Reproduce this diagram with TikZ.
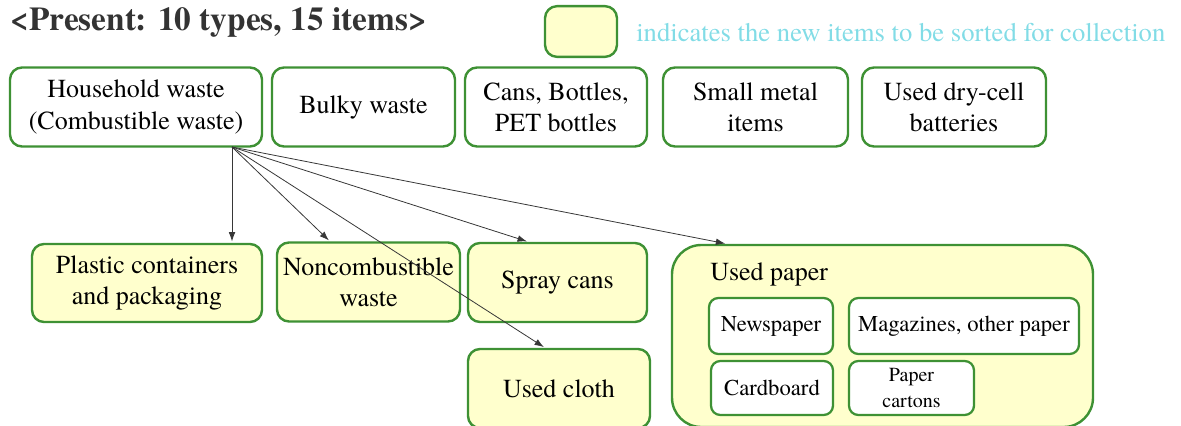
\documentclass[tikz,border=0pt]{standalone}
\usepackage{fontspec}
\setmainfont{texgyretermes}[Extension=.otf, UprightFont=*-regular, BoldFont=*-bold]
\usetikzlibrary{arrows.meta}

\definecolor{boxgreen}{RGB}{62,145,52}
\definecolor{newfill}{RGB}{255,255,205}
\definecolor{notecyan}{RGB}{130,220,230}
\definecolor{arrowgray}{RGB}{55,55,55}

\begin{document}
\begin{tikzpicture}[x=0.75pt, y=-0.75pt,
    oldtype/.style={rectangle, rounded corners=9pt, draw=boxgreen, line width=1.8pt, fill=white,
      align=center, font=\fontsize{19.5}{23.5}\selectfont, inner sep=2pt},
    newtype/.style={oldtype, fill=newfill},
    papertype/.style={oldtype, line width=1.7pt, rounded corners=7pt, font=\fontsize{17}{19}\selectfont},
    sortarrow/.style={draw=arrowgray, line width=0.6pt, -{Latex[length=7pt,width=5pt]}, shorten >=1pt}]
    \useasboundingbox (0,0) rectangle (1181,425);

    \node[anchor=base west, font=\fontsize{25}{27}\selectfont\bfseries, text=black!80, inner sep=0pt] (title) at (10,30) {<Present: 10 types, 15 items>};
    \node[newtype, minimum width=54pt, minimum height=38pt] (key) at (581,31.5) {};
    \node[anchor=base west, font=\fontsize{20}{22}\selectfont, text=notecyan, inner sep=0pt] (keytext) at (636,41) {indicates the new items to be sorted for collection};

    % present types
    \node[oldtype, minimum width=189pt, minimum height=59.25pt] (house) at (136,107) {Household waste\\(Combustible waste)};
    \node[oldtype, minimum width=137.25pt, minimum height=59.25pt] (bulky) at (363.5,107) {Bulky waste};
    \node[oldtype, minimum width=136.5pt, minimum height=59.25pt] (cans) at (556,107) {Cans, Bottles,\\PET bottles};
    \node[oldtype, minimum width=138.75pt, minimum height=59.25pt] (metal) at (755.5,107) {Small metal\\items};
    \node[oldtype, minimum width=138pt, minimum height=59.25pt] (battery) at (954,107) {Used dry-cell\\batteries};

    % new types
    \node[newtype, minimum width=172.5pt, minimum height=58.5pt] (plastic) at (147,283) {Plastic containers\\and packaging};
    \node[newtype, minimum width=137.25pt, minimum height=59.25pt, inner sep=0pt] (noncomb) at (368.5,282) {Noncombustible\\waste};
    \node[newtype, minimum width=134.25pt, minimum height=59.25pt] (spray) at (557.5,282.5) {Spray cans};
    \node[newtype, minimum width=136.5pt, minimum height=59.25pt] (cloth) at (559,388.5) {Used cloth};
    \node[newtype, rounded corners=22pt, minimum width=315.75pt, minimum height=136.5pt] (paper) at (882.5,336) {};
    \node[anchor=base west, font=\fontsize{19.5}{23}\selectfont, inner sep=0pt] (papertitle) at (710,280) {Used paper};

    \node[papertype, minimum width=93pt, minimum height=42pt] (news) at (771,326) {Newspaper};
    \node[papertype, minimum width=172.5pt, minimum height=42pt] (mags) at (964,326) {Magazines, other paper};
    \node[papertype, minimum width=91.5pt, minimum height=40.5pt] (card) at (772,388) {Cardboard};
    \node[papertype, minimum width=93.75pt, minimum height=40.5pt, font=\fontsize{15}{19}\selectfont] (cartons) at (911.5,388) {Paper\\cartons};

    % arrows from household waste
    \coordinate (src) at (232,147);
    \draw[sortarrow] (src) -- (src |- plastic.north);
    \draw[sortarrow] (src) -- ([xshift=-29pt]noncomb.north);
    \draw[sortarrow] (src) -- ([xshift=-22pt]spray.north);
    \draw[sortarrow] (src) -- ([xshift=-10.5pt]cloth.north);
    \draw[sortarrow] (src) -- ([xshift=-117pt]paper.north);
\end{tikzpicture}
\end{document}
